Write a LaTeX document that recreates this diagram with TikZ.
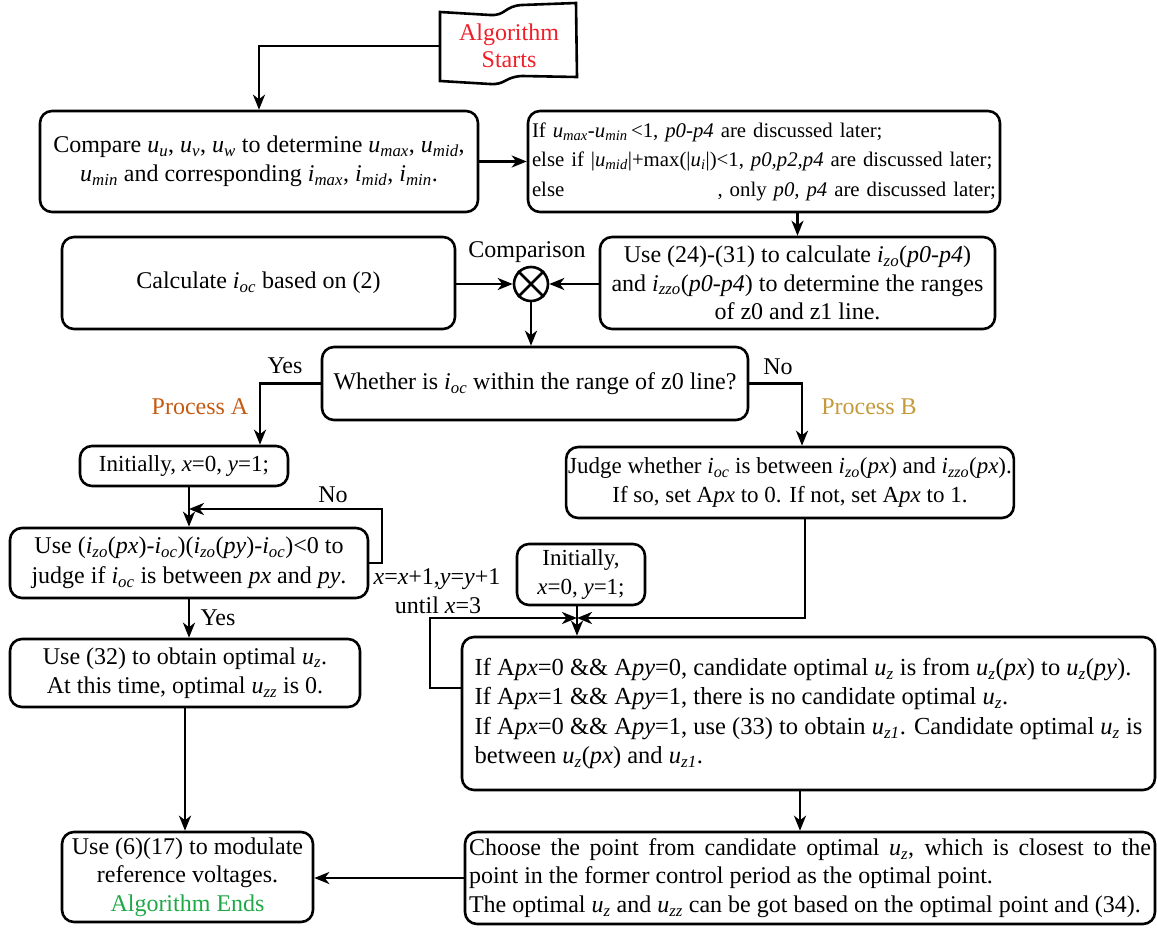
\documentclass[tikz,border=0pt]{standalone}
\usepackage{fontspec}
\setmainfont{Liberation Serif}
\usetikzlibrary{arrows.meta}
\definecolor{startred}{RGB}{240,30,40}
\definecolor{endgreen}{RGB}{30,168,70}
\definecolor{procA}{RGB}{197,90,17}
\definecolor{procB}{RGB}{196,154,58}
\newcommand\vsb[2]{\textit{#1}\textsubscript{\textit{#2}}}
\tikzset{
  box/.style={draw, line width=2.6pt, rounded corners=12pt, align=center, inner sep=2pt,
    font=\fontsize{24}{29.5}\selectfont},
  arr/.style={line width=2.6pt, -{Stealth[length=15pt,width=12pt,inset=4.5pt]}},
  lbl/.style={font=\fontsize{24}{28}\selectfont, inner sep=1pt}
}
\begin{document}
\begin{tikzpicture}[x=1pt,y=-1pt]
\useasboundingbox (0,0) rectangle (1157,928);
% start banner
\draw[line width=2.6pt] (440,12) -- (490,15) .. controls (506,16) and (504,6) .. (522,5) -- (576,3) -- (577,77)
  -- (522,76) .. controls (504,77) and (506,85) .. (490,84) -- (440,81) -- cycle;
\node[minimum width=137pt, minimum height=70pt, align=center, inner sep=0pt, text=startred,
  font=\fontsize{24}{27}\selectfont] (start) at (509,46) {Algorithm\\Starts};

\node[box, minimum width=438pt, minimum height=101pt] (compare) at (259,161.5)
 {Compare \vsb{u}{u}, \vsb{u}{v}, \vsb{u}{w} to determine \vsb{u}{max}, \vsb{u}{mid},\\
  \vsb{u}{min} and corresponding \vsb{i}{max}, \vsb{i}{mid}, \vsb{i}{min}.};
\node[box, minimum width=472pt, minimum height=101pt, text width=464pt, align=left,
  font=\fontsize{20.8}{29.5}\selectfont] (cond) at (764,161.5)
 {If \vsb{u}{max}-\vsb{u}{min}\,<1, \textit{p0-p4} are discussed later;\\
  else if |\vsb{u}{mid}|+max(|\vsb{u}{i}|)<1, \textit{p0,p2,p4} are discussed later;\\
  else\hfill, only \textit{p0, p4} are discussed later;};
\node[box, minimum width=395pt, minimum height=92pt, font=\fontsize{24}{28.5}\selectfont] (calc24) at (797.5,283)
 {Use (24)-(31) to calculate \vsb{i}{zo}(\textit{p0-p4})\\
  and \vsb{i}{zzo}(\textit{p0-p4}) to determine the ranges\\ of z0 and z1 line.};
\node[box, minimum width=393pt, minimum height=92pt] (calcioc) at (258.5,283)
 {Calculate \vsb{i}{oc} based on (2)};
\node[draw, circle, line width=2.6pt, minimum size=34pt, inner sep=0pt] (cmp) at (531,284) {};
\draw[line width=2.6pt] (cmp.north west) -- (cmp.south east) (cmp.north east) -- (cmp.south west);
\node[lbl] (cmplbl) at (527,252) {Comparison};

\node[box, minimum width=426pt, minimum height=73pt] (whether) at (535,383.5)
 {Whether is \vsb{i}{oc} within the range of z0 line?};
\node[box, minimum width=208pt, minimum height=40pt, font=\fontsize{23}{28}\selectfont] (initA) at (184,466)
 {Initially, \textit{x}=0, \textit{y}=1;};
\node[box, minimum width=358pt, minimum height=70pt] (judgeA) at (189,563)
 {Use (\vsb{i}{zo}(\textit{px})-\vsb{i}{oc})(\vsb{i}{zo}(\textit{py})-\vsb{i}{oc})<0 to\\
  judge if \vsb{i}{oc} is between \textit{px} and \textit{py}.};
\node[box, minimum width=350pt, minimum height=68pt] (optA) at (185,673)
 {Use (32) to obtain optimal \vsb{u}{z}.\\ At this time, optimal \vsb{u}{zz} is 0.};
\node[box, minimum width=251pt, minimum height=90pt, font=\fontsize{24}{28.5}\selectfont] (endbox) at (187.5,877)
 {Use (6)(17) to modulate\\ reference voltages.\\ \textcolor{endgreen}{Algorithm Ends}};

\node[box, minimum width=440pt, minimum height=71pt, font=\fontsize{23}{29.5}\selectfont] (judgeB) at (790,482.5)
 {Judge whether \vsb{i}{oc} is between \vsb{i}{zo}(\textit{px}) and \vsb{i}{zzo}(\textit{px}).\\
  If so, set A\textit{px} to 0. If not, set A\textit{px} to 1.};
\node[box, minimum width=128pt, minimum height=61pt, font=\fontsize{23}{28.5}\selectfont] (initB) at (581,574.5)
 {Initially,\\ \textit{x}=0, \textit{y}=1;};
\node[box, minimum width=693pt, minimum height=153pt, align=left, font=\fontsize{24.5}{29.5}\selectfont] (candB) at (808.5,713.5)
 {If A\textit{px}=0 \&\& A\textit{py}=0, candidate optimal \vsb{u}{z} is from \vsb{u}{z}(\textit{px}) to \vsb{u}{z}(\textit{py}).\\
  If A\textit{px}=1 \&\& A\textit{py}=1, there is no candidate optimal \vsb{u}{z}.\\
  If A\textit{px}=0 \&\& A\textit{py}=1, use (33) to obtain \vsb{u}{z1}. Candidate optimal \vsb{u}{z} is\\
  between \vsb{u}{z}(\textit{px}) and \vsb{u}{z1}.};
\node[box, minimum width=690pt, minimum height=92pt, text width=682pt, align=justify,
  font=\fontsize{24}{28.5}\selectfont] (choose) at (810,878)
 {Choose the point from candidate optimal \vsb{u}{z}, which is closest to the\linebreak
  point in the former control period as the optimal point.\\
  The optimal \vsb{u}{z} and \vsb{u}{zz} can be got based on the optimal point and (34).};

% labels
\node[lbl] (yes1) at (285,366) {Yes};
\node[lbl] (no1) at (778,367) {No};
\node[lbl, text=procA] (pA) at (200,407) {Process A};
\node[lbl, text=procB] (pB) at (869,407) {Process B};
\node[lbl] (no2) at (333,495) {No};
\node[lbl] (incr) at (437,579) {\textit{x}=\textit{x}+1,\textit{y}=\textit{y}+1};
\node[lbl] (until) at (438,605) {until \textit{x}=3};
\node[lbl] (yes2) at (218,618) {Yes};

% coordinates
\coordinate (yA) at (260,380);
\coordinate (nB) at (802,380);
\coordinate (lA) at (382,509);
\coordinate (J) at (577,618);
\coordinate (jB) at (805,530);
\coordinate (lB) at (430,688);
\coordinate (cB) at (800,800);

% connectors
\draw[arr] (start.west) -| (compare.north);
\draw[arr] (compare.east) -- (cond.west);
\draw[arr] (cond.south -| calc24.north) -- (calc24.north);
\draw[arr] (calcioc.east |- cmp.west) -- (cmp.west);
\draw[arr] (calc24.west |- cmp.east) -- (cmp.east);
\draw[arr] (cmp.south) -- (cmp.south |- whether.north);
\draw[arr] (whether.west) -| (initA.north -| yA);
\draw[arr] (whether.east) -| (judgeB.north -| nB);
\draw[arr] (judgeA.north |- initA.south) -- (judgeA.north);
\draw[arr] (judgeA.east) -| (lA) -- (lA -| judgeA.north);
\draw[arr] (judgeA.south) -- (judgeA.south |- optA.north);
\draw[arr] (optA.south) -- (optA.south |- endbox.north);
\draw[arr] (judgeB.south -| jB) |- (J);
\draw[arr] (candB.west |- lB) -- (lB) |- (J);
\draw[arr] (initB.south -| J) -- (J |- candB.north);
\draw[arr] (candB.south -| cB) -- (cB |- choose.north);
\draw[arr] (choose.west) -- (endbox.east |- choose.west);
\end{tikzpicture}
\end{document}
